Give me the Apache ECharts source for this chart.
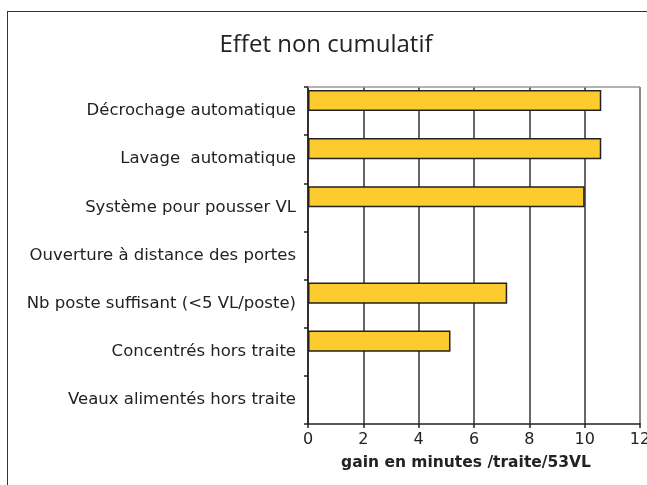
<!DOCTYPE html>
<html>
<head>
<meta charset="utf-8">
<script src="https://cdn.jsdelivr.net/npm/echarts@6/dist/echarts.min.js"></script>
<style>
  html, body { margin: 0; padding: 0; background: #fff; overflow: hidden; width: 647px; height: 485px; }
  #frame {
    position: absolute; left: 7px; top: 11px; width: 650px; height: 490px;
    border-left: 1.5px solid #333; border-top: 1.5px solid #333;
  }
  #chart { position: absolute; left: 0; top: 0; width: 647px; height: 485px; }
</style>
</head>
<body>
<div id="frame"></div>
<div id="chart"></div>
<script>
// categories, top to bottom
const categories = [
  "Décrochage automatique",
  "Lavage  automatique",
  "Système pour pousser VL",
  "Ouverture à distance des portes",
  "Nb poste suffisant (<5 VL/poste)",
  "Concentrés hors traite",
  "Veaux alimentés hors traite"
];
// gain en minutes /traite/53VL
const gains = [10.6, 10.6, 10.0, null, 7.2, 5.15, null];
// empty second series (Excel leaves its slot blank)
const emptySeries = [null, null, null, null, null, null, null];
const xTicks = { min: 0, max: 12, interval: 2 };

const chart = echarts.init(document.getElementById("chart"));
chart.setOption({
  animation: false,
  title: {
    text: "Effet non cumulatif",
    left: 321, top: 28, textAlign: "center",
    textStyle: { fontFamily: "Open Sans", fontWeight: "normal", fontSize: 24, color: "#222" }
  },
  grid: { left: 308, right: 7, top: 87, bottom: 61, outerBoundsMode: "none", containLabel: false },
  xAxis: {
    type: "value",
    min: xTicks.min, max: xTicks.max, interval: xTicks.interval,
    name: "gain en minutes /traite/53VL",
    nameLocation: "middle", nameGap: 31,
    nameTextStyle: { fontFamily: "DejaVu Sans", fontWeight: "bold", fontSize: 15.5, color: "#222", padding: [0, 16, 0, 0] },
    axisLine: { show: true, lineStyle: { color: "#222", width: 1.5 } },
    axisTick: { show: true, length: 4, lineStyle: { color: "#222", width: 1.5 } },
    axisLabel: { fontFamily: "DejaVu Sans", fontSize: 16, color: "#222", margin: 8 },
    splitLine: { show: true, lineStyle: { color: "#333", width: 1.5 } }
  },
  yAxis: {
    type: "category", data: categories, inverse: true,
    axisLine: { lineStyle: { color: "#222", width: 1.5 } },
    axisTick: { show: true, length: 4, lineStyle: { color: "#222", width: 1.5 } },
    axisLabel: { fontFamily: "DejaVu Sans", fontSize: 16.5, color: "#222", margin: 12 }
  },
  series: [
    {
      type: "bar", data: gains,
      barGap: "0%", barCategoryGap: "12%",
      itemStyle: { color: "#FDCB2E", borderColor: "#222", borderWidth: 1.5 }
    },
    {
      type: "bar", data: emptySeries,
      itemStyle: { color: "#FDCB2E" }
    }
  ],
  graphic: [
    { type: "line", z: 100, shape: { x1: 308, y1: 87, x2: 640, y2: 87 }, style: { stroke: "#999", lineWidth: 1.5 } },
    { type: "line", z: 100, shape: { x1: 640, y1: 87, x2: 640, y2: 423 }, style: { stroke: "#888", lineWidth: 2 } }
  ]
});
</script>
</body>
</html>
